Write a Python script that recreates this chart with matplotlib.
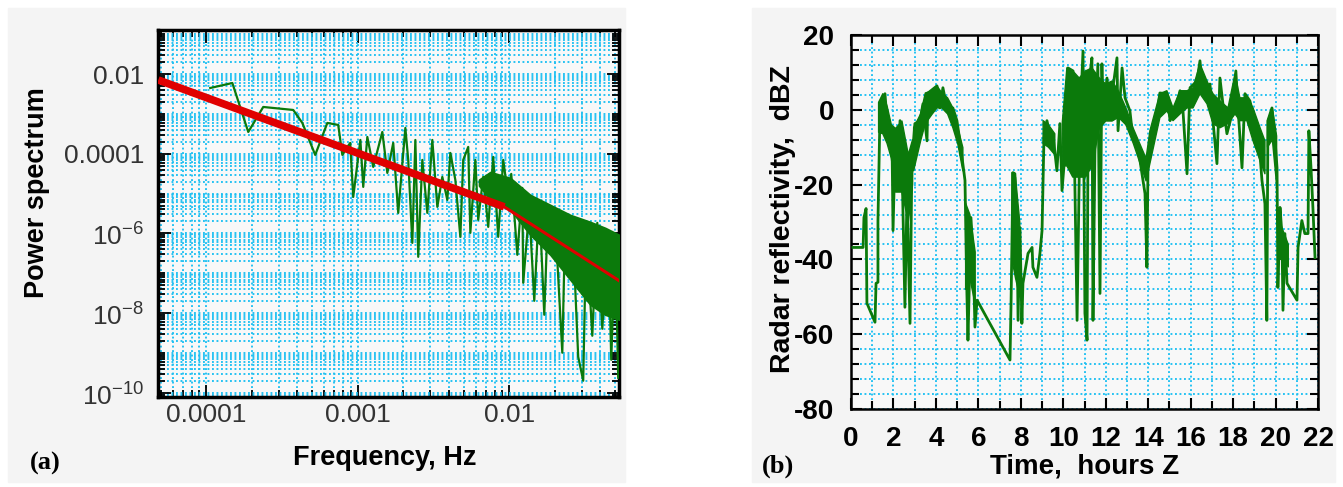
import matplotlib
matplotlib.use("Agg")
import matplotlib.pyplot as plt
import numpy as np
from matplotlib.patches import Rectangle
from matplotlib.ticker import FixedLocator, LogLocator, NullFormatter, MultipleLocator

nan = np.nan

# ---- panel (a): power spectrum, values stored as log10 exponents ----
spec_log_f = [-3.974, -3.828, -3.723, -3.624, -3.426, -3.366, -3.281, -3.201, -3.129,
              -3.102, -3.069, -3.050, -3.030, -2.983, -2.964, -2.937, -2.898, -2.838,
              -2.805, -2.766, -2.733, -2.686, -2.667, -2.640, -2.620, -2.601, -2.574,
              -2.541, -2.508, -2.475, -2.442, -2.409, -2.389, -2.356, -2.323, -2.304,
              -2.271, -2.257, -2.224, -2.205, -2.172, -2.139, -2.106, -2.073, -2.040,
              -2.007, -1.987, -1.947, -1.914, -1.908, -1.868, -1.835, -1.802, -1.769,
              -1.743, -1.696, -1.650, -1.630, -1.584, -1.545, -1.512, -1.492, -1.452,
              -1.419, -1.386, -1.347, -1.327, -1.300, -1.281]
spec_log_p = [-2.351, -2.226, -3.454, -2.827, -2.902, -3.228, -4.030, -3.228, -3.278,
              -4.030, -3.830, -3.729, -5.083, -3.654, -4.832, -3.579, -4.331, -3.454,
              -4.481, -3.729, -5.484, -3.353, -4.155, -6.236, -3.654, -6.586, -4.155,
              -5.484, -3.654, -5.333, -4.581, -5.158, -3.980, -4.657, -6.085, -4.155,
              -3.830, -5.985, -4.155, -5.659, -4.581, -5.835, -4.080, -6.085, -4.155,
              -5.083, -4.506, -6.536, -4.857, -7.238, -5.383, -7.689, -5.208, -8.040,
              -5.308, -5.759, -8.992, -5.559, -5.659, -9.093, -9.694, -5.935, -8.566,
              -5.734, -8.391, -5.935, -9.168, -6.286, -9.619]

# dense part of the spectrum (solid green band)
band_log_f = [-2.200, -2.125, -1.993, -1.861, -1.729, -1.597, -1.465, -1.366, -1.274]
band_log_hi = [-4.650, -4.456, -4.607, -5.033, -5.283, -5.534, -5.709, -5.860, -6.035]
band_log_lo = [-4.800, -5.158, -5.409, -6.035, -6.536, -7.163, -7.789, -8.040, -8.165]

# fitted power law, two segments
fit1_log_f = [-4.317, -2.033]
fit1_log_p = [-2.150, -5.333]
fit2_log_f = [-2.033, -1.274]
fit2_log_p = [-5.333, -7.188]

freq_ticks = [1e-4, 1e-3, 1e-2]
freq_labels = ["0.0001", "0.001", "0.01"]
pow_ticks = [1e-10, 1e-8, 1e-6, 1e-4, 1e-2]
pow_labels = [r"10$^{\mathregular{-10}}$", r"10$^{\mathregular{-8}}$",
              r"10$^{\mathregular{-6}}$", "0.0001", "0.01"]

# ---- panel (b): radar reflectivity time series ----
hours = [0.09, 0.57, 0.61, 0.71, 0.75, 1.13, 1.18, 1.27, 1.27, 1.37, 1.51, 1.60, 1.70,
         1.93, 1.98, 2.07, 2.17, 2.31, 2.40, 2.54, 2.64, 2.78, 2.87, 3.01, 3.25, 3.39,
         3.58, 3.63, 4.05, 4.19, 4.33, 4.52, 4.80, 4.99, 5.13, 5.37, 5.46, 5.51, 5.65,
         5.75, 5.84, 5.94, 7.49, 7.54, 7.63, 7.72, 7.82, 7.87, 7.96, 8.05, 8.10, 8.34,
         8.53, 8.57, 8.76, 8.90, 9.00, 9.09, 9.23, 9.37, 9.51, 9.70, 9.84, 9.94, 10.08,
         10.22, 10.46, 10.65, 10.79, 10.93, 11.02, 11.12, 11.16, 11.26, 11.35, 11.40,
         11.49, 11.63, 11.73, 11.82, 11.87, 12.06, 12.20, 12.34, 12.53, 12.58, 12.77,
         12.91, 13.14, 13.28, 13.52, 13.71, 13.85, 13.94, 13.99, 14.18, 14.41, 14.55,
         14.88, 15.03, 15.26, 15.50, 15.64, 15.83, 15.97, 16.30, 16.44, 16.58, 16.91,
         17.05, 17.24, 17.38, 17.52, 17.71, 17.95, 18.13, 18.23, 18.42, 18.56, 18.79,
         19.03, 19.17, 19.36, 19.50, 19.59, 19.64, 19.83, 19.97, 20.07, 20.11, 20.21,
         20.30, 20.35, 20.44, 20.54, 21.01, 21.06, 21.24, 21.38, 21.53, 21.57, 21.67,
         21.76, 21.86]
dbz = [-36.8, -36.8, -28.8, -26.4, -51.7, -56.8, -46.4, -46.1, -29.6, 0.5, 3.2, 4.3, -2.9,
       -7.5, -32.3, -11.7, -20.8, -2.9, -13.6, -52.8, -22.4, -57.1, -13.6, -3.7, -2.9, 1.6,
       -8.3, 4.5, 6.4, 0.5, 5.9, 0.5, 0.5, -2.9, -8.3, -18.9, -49.1, -61.6, -28.8,
       -38.4, -58.1, -50.9, -66.9, -51.7, -16.8, -17.1, -29.6, -56.3, -31.5, -57.1, -46.4, -38.4,
       -36.8, -42.1, -44.8, -38.4, -32.3, -7.5, -2.9, -6.4, -6.4, -16.3, -3.7, -21.6, -11.7,
       11.2, 10.4, -56.3, -2.9, 15.7, -54.4, -61.6, -13.6, 9.6, 13.9, -56.3,
       -11.7, 12.3, -49.1, 12.3, -1.1, 8.5, -1.1, 5.9, 13.9, -5.6, 11.2,
       3.2, -0.3, -7.5, -10.1, -17.1, -22.4, -42.1, -15.5, -6.4, -1.1, 4.5,
       4.3, -2.9, -0.3, 5.1, -0.3, -17.1, 5.9, 7.7, 13.1, 4.3, 6.9,
       -2.9, -14.4, 8.5, 1.6, -6.4, -1.1, 10.4, 0.5, -15.5, 4.3, 2.4,
       -2.9, -4.8, -18.9, -25.1, -56.3, -2.9, 0.5, -7.5, -15.5, -47.5, -26.1,
       -33.1, -53.6, -33.1, -46.4, -50.9, -36.8, -29.6, -33.1, -33.1, -5.6, -15.5,
       -26.1, -39.5]

# dense (rapidly fluctuating) stretches of the record: upper / lower envelope, nan = gap
band_hours = [1.30, 1.50, 1.70, 1.90, 2.10, 2.40, 2.70, 2.90, nan,
              2.95, 3.28, 3.50, 3.83, 4.05, 4.28, 4.55, 4.80, 5.03, 5.27, nan,
              5.40, 5.60, 5.85, nan,
              7.58, 7.75, 7.95, nan,
              9.05, 9.30, 9.60, nan,
              9.95, 10.17, 10.45, 10.75, 11.05, 11.35, 11.70, 12.00, 12.30, 12.60, 12.95,
              13.30, 13.60, 13.90, 14.08, 14.55, 14.88, 15.17, 15.50, 15.83, 16.11, 16.44,
              16.77, 17.05, 17.38, 17.76, 18.09, 18.32, 18.65, 18.94, 19.27, 19.50, nan,
              19.62, 19.85, 20.05, nan,
              20.20, 20.40, 20.60]
band_hi = [2.0, 4.3, 1.0, -4.0, -5.0, -3.0, -12.0, -8.0, nan,
           -4.8, -1.1, 4.5, 5.1, 6.4, 4.5, 3.2, 0.5, -4.8, -10.1, nan,
           -25.0, -28.0, -38.0, nan,
           -16.8, -18.0, -30.0, nan,
           -2.9, -4.0, -6.4, nan,
           -3.7, 11.2, 10.4, 8.5, 10.4, 11.2, 8.5, 6.9, 7.7, 5.0, 0.5,
           -5.0, -9.0, -13.0, -5.6, 4.3, 5.1, 0.5, 5.1, 5.1, 5.9, 12.3,
           7.7, 4.3, 2.4, 0.5, 9.6, 3.2, 3.2, 0.5, -4.8, -8.3, nan,
           -2.9, 0.5, -7.0, nan,
           -30.0, -33.0, -36.0]
band_lo = [-6.0, -6.4, -9.0, -13.0, -22.0, -22.0, -30.0, -20.0, nan,
           -16.3, -8.3, -3.7, -1.1, 0.5, 0.5, -1.1, -4.8, -9.1, -16.3, nan,
           -48.0, -45.0, -52.0, nan,
           -40.0, -45.0, -50.0, nan,
           -9.0, -10.0, -12.0, nan,
           -15.0, -15.0, -18.0, -18.0, -18.0, -15.0, -5.0, -3.0, -3.0, -2.0, -4.0,
           -9.0, -14.0, -19.0, -14.4, -2.1, -0.3, -2.9, -1.1, 0.5, 0.5, 4.3,
           1.6, -3.7, -4.8, -3.7, -1.1, -2.9, -2.9, -8.3, -13.6, -17.1, nan,
           -10.0, -8.0, -20.0, nan,
           -40.0, -40.0, -42.0]

GREEN = "#0b7a0b"
RED = "#e00000"
GRID = "#1ec0f2"
PANEL_BG = "#f4f4f4"

plt.rcParams["font.family"] = ["Liberation Sans", "DejaVu Sans"]
plt.rcParams["mathtext.fontset"] = "custom"
plt.rcParams["mathtext.rm"] = "Liberation Sans"
plt.rcParams["axes.unicode_minus"] = False

fig = plt.figure(figsize=(13.43, 4.87), dpi=100, facecolor="white")
W, H = 1343, 487
fig.patches.append(Rectangle((8 / W, 5 / H), 617 / W, 474 / H, transform=fig.transFigure,
                             color=PANEL_BG, zorder=-10))
fig.patches.append(Rectangle((752 / W, 5 / H), 583 / W, 474 / H, transform=fig.transFigure,
                             color=PANEL_BG, zorder=-10))

ax1 = fig.add_axes([158 / W, 1 - 397 / H, 461 / W, 367 / H])
ax2 = fig.add_axes([851 / W, 1 - 409 / H, 467 / W, 374 / H])

grid_style = dict(color=GRID, linestyle=(0, (1, 1.4)), linewidth=1.35)

# ---- panel (a) ----
ax1.set_facecolor("#f8f8f8")
ax1.set_xscale("log")
ax1.set_yscale("log")
ax1.fill_between(10.0 ** np.array(band_log_f), 10.0 ** np.array(band_log_lo),
                 10.0 ** np.array(band_log_hi), color=GREEN, lw=1.2, zorder=3)
ax1.plot(10.0 ** np.array(spec_log_f), 10.0 ** np.array(spec_log_p), color=GREEN,
         lw=1.6, zorder=3)
ax1.plot(10.0 ** np.array(fit1_log_f), 10.0 ** np.array(fit1_log_p), color=RED,
         lw=5.5, solid_capstyle="butt", zorder=4)
ax1.plot(10.0 ** np.array(fit2_log_f), 10.0 ** np.array(fit2_log_p), color=RED,
         lw=2.2, zorder=4)
ax1.set_xlim(4.8e-5, 0.053)
ax1.set_ylim(7.9e-11, 0.127)
ax1.xaxis.set_major_locator(FixedLocator(freq_ticks))
ax1.set_xticklabels(freq_labels)
ax1.xaxis.set_minor_locator(LogLocator(base=10, subs=np.arange(2, 10)))
ax1.xaxis.set_minor_formatter(NullFormatter())
ax1.yaxis.set_major_locator(FixedLocator(pow_ticks))
ax1.set_yticklabels(pow_labels)
ax1.yaxis.set_minor_locator(LogLocator(base=10, subs=np.arange(1, 10), numticks=30))
ax1.yaxis.set_minor_formatter(NullFormatter())
ax1.grid(True, which="both", **grid_style)
ax1.tick_params(which="both", direction="in", top=True, right=True, colors="black",
                labelcolor="#333333", labelsize=19, width=1.3)
ax1.tick_params(which="major", length=9)
ax1.tick_params(which="minor", length=5)
ax1.tick_params(axis="y", pad=10)
ax1.tick_params(axis="x", pad=4)
for s in ax1.spines.values():
    s.set_linewidth(2.5)
fig.text(385 / W, 1 - 458 / H, "Frequency, Hz", fontsize=19.5, fontweight="bold",
         ha="center", va="center")
fig.text(37 / W, 1 - 193 / H, "Power spectrum", fontsize=19.5, fontweight="bold",
         ha="center", va="center", rotation=90)

# ---- panel (b) ----
ax2.set_facecolor("#f8f8f8")
ax2.fill_between(band_hours, band_lo, band_hi, color=GREEN, lw=1.0, zorder=3)
ax2.plot(hours, dbz, color=GREEN, lw=2.0, zorder=3)
ax2.set_xlim(0, 22)
ax2.set_ylim(-80, 20)
ax2.xaxis.set_major_locator(MultipleLocator(2))
ax2.xaxis.set_minor_locator(MultipleLocator(1))
ax2.yaxis.set_major_locator(MultipleLocator(20))
ax2.yaxis.set_minor_locator(MultipleLocator(4))
ax2.grid(True, which="both", **grid_style)
ax2.tick_params(which="both", direction="in", top=True, right=True, width=1.5,
                labelsize=20)
ax2.tick_params(which="major", length=8)
ax2.tick_params(which="minor", length=6)
ax2.tick_params(axis="y", pad=12)
ax2.tick_params(axis="x", pad=12)
for lab in ax2.get_xticklabels() + ax2.get_yticklabels():
    lab.set_fontweight("bold")
for s in ax2.spines.values():
    s.set_linewidth(1.8)
fig.text(1085 / W, 1 - 466 / H, "Time,  hours Z", fontsize=20, fontweight="bold",
         ha="center", va="center")
fig.text(783 / W, 1 - 219 / H, "Radar reflectivity,  dBZ", fontsize=20.5,
         fontweight="bold", ha="center", va="center", rotation=90)

fig.text(30 / W, 1 - 463 / H, "(a)", fontsize=19, fontweight="bold",
         family="Liberation Serif", va="center")
fig.text(762 / W, 1 - 466 / H, "(b)", fontsize=19, fontweight="bold",
         family="Liberation Serif", va="center")

fig.savefig("out.png", dpi=100, facecolor="white")
